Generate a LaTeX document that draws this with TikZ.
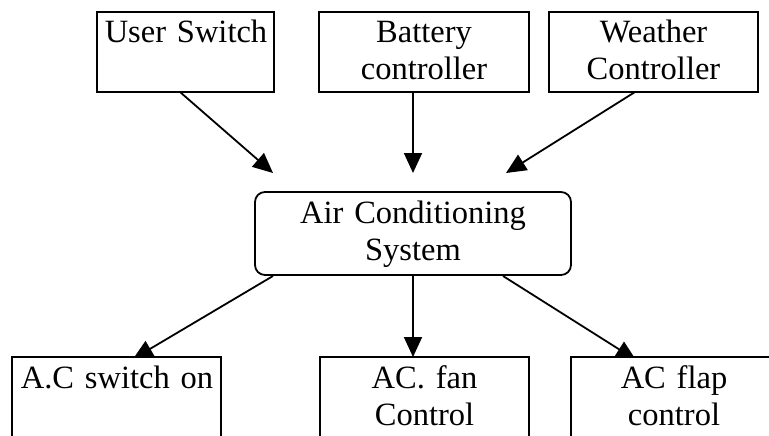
\documentclass[tikz,border=0pt]{standalone}
\usepackage{fontspec}
\setmainfont{Liberation Serif}
\usetikzlibrary{arrows.meta,calc}
\pgfdeclarelayer{bg}
\pgfsetlayers{bg,main}
\begin{document}
\begin{tikzpicture}[x=1pt,y=-1pt,
  box/.style={draw, line width=1.8pt, fill=white, inner sep=0pt},
  lbl/.style={font=\fontsize{32.5}{37}\selectfont, align=center, text width=260pt, inner sep=0pt, anchor=base},
  conn/.style={line width=1.8pt, -{Triangle[length=20pt,width=18pt]}}]
\useasboundingbox (0,0) rectangle (769,436);
\clip (0,0) rectangle (769,436);
% top boxes
\node[box, minimum width=177pt, minimum height=80pt] (us) at (185.5,52) {};
\node[box, minimum width=210pt, minimum height=80pt] (bc) at (424,52) {};
\node[box, minimum width=209pt, minimum height=80pt] (wc) at (653.5,52) {};
% centre box
\node[box, rounded corners=10pt, minimum width=316pt, minimum height=83pt] (ac) at (413,233.5) {};
% bottom boxes
\node[box, minimum width=209pt, minimum height=110pt] (sw) at (116.5,412) {};
\node[box, minimum width=209pt, minimum height=110pt] (fan) at (424.5,412) {};
\node[box, minimum width=206pt, minimum height=110pt] (flap) at (674,412) {};
% labels
\node[lbl] (usT) at (186,43) {User Switch};
\node[lbl] (bcT) at (424,43) {Battery\\controller};
\node[lbl] (wcT) at (653.5,43) {Weather\\Controller};
\node[lbl] (acT) at (413,223) {Air Conditioning\\System};
\node[lbl] (swT) at (117,388) {A.C switch on};
\node[lbl] (fanT) at (424.5,388) {AC. fan\\Control};
\node[lbl] (flapT) at (674,388) {AC flap\\control};
% connector end points
\coordinate (usO) at (180,92);
\coordinate (bcO) at (413,92);
\coordinate (wcO) at (635,92);
\coordinate (usI) at (273,173);
\coordinate (bcI) at (413,173);
\coordinate (wcI) at (506,173);
\coordinate (acO1) at (273,276);
\coordinate (acO2) at (413,276);
\coordinate (acO3) at (503,276);
\coordinate (swI) at (133,359);
\coordinate (fanI) at (413,357);
\coordinate (flapI) at (636,360);
\begin{pgfonlayer}{bg}
\draw[conn] (usO) -- (usI);
\draw[conn] (bcO) -- (bcI);
\draw[conn] (wcO) -- (wcI);
\draw[conn] (acO1) -- (swI);
\draw[conn] (acO2) -- (fanI);
\draw[conn] (acO3) -- (flapI);
\end{pgfonlayer}
\end{tikzpicture}
\end{document}
